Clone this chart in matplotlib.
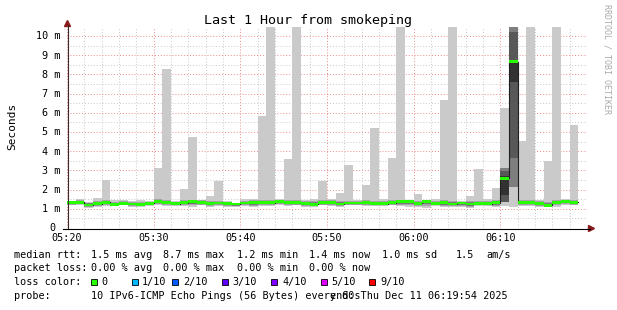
import numpy as np
import pandas as pd
import matplotlib
matplotlib.use("Agg")
import matplotlib.pyplot as plt
import matplotlib.dates as mdates
from matplotlib.transforms import offset_copy
from matplotlib.patches import Polygon, Rectangle
from matplotlib.lines import Line2D
from matplotlib.ticker import MultipleLocator

plt.rcParams['font.family'] = ['DejaVu Sans Mono', 'DejaVu Sans']

# ---------------- data (milliseconds), one column per minute ----------------
title = "Last 1 Hour from smokeping"
start_time = "2025-12-11 05:20"
window_minutes = 60

# the 10 sorted ping times of every minute (ping1 = fastest ... ping10 = slowest)
ping1 = [1.18, 1.18, 1.05, 1.11, 1.15, 1.15, 1.18, 1.11, 1.08, 1.15,
         1.22, 1.15, 1.15, 1.15, 1.11, 1.18, 1.11, 1.15, 1.11, 1.08,
         1.15, 1.11, 1.15, 1.15, 1.18, 1.15, 1.18, 1.11, 1.11, 1.18,
         1.15, 1.11, 1.18, 1.18, 1.15, 1.15, 1.15, 1.18, 1.15, 1.11,
         1.08, 1.04, 1.15, 1.11, 1.11, 1.08, 1.04, 1.15, 1.15, 1.11,
         1.15, 1.11, 1.15, 1.15, 1.11, 1.11, 1.11, 1.18, 1.18]
ping2 = [1.22, 1.23, 1.10, 1.16, 1.20, 1.18, 1.21, 1.15, 1.13, 1.19,
         1.26, 1.20, 1.18, 1.20, 1.18, 1.22, 1.16, 1.19, 1.16, 1.13,
         1.19, 1.17, 1.20, 1.20, 1.23, 1.20, 1.22, 1.16, 1.15, 1.22,
         1.20, 1.15, 1.21, 1.21, 1.20, 1.18, 1.18, 1.22, 1.21, 1.18,
         1.14, 1.14, 1.19, 1.17, 1.15, 1.14, 1.10, 1.19, 1.18, 1.17,
         1.37, 2.15, 1.20, 1.20, 1.16, 1.13, 1.18, 1.24, 1.22]
ping3 = [1.26, 1.27, 1.14, 1.20, 1.25, 1.20, 1.24, 1.19, 1.17, 1.23,
         1.30, 1.25, 1.21, 1.24, 1.24, 1.26, 1.21, 1.23, 1.20, 1.17,
         1.23, 1.22, 1.25, 1.24, 1.28, 1.24, 1.25, 1.20, 1.18, 1.25,
         1.24, 1.19, 1.24, 1.24, 1.24, 1.21, 1.21, 1.25, 1.27, 1.25,
         1.20, 1.24, 1.23, 1.22, 1.19, 1.20, 1.16, 1.23, 1.21, 1.22,
         1.37, 2.15, 1.24, 1.25, 1.20, 1.15, 1.24, 1.30, 1.26]
ping4 = [1.29, 1.30, 1.17, 1.23, 1.29, 1.21, 1.26, 1.22, 1.20, 1.26,
         1.33, 1.29, 1.24, 1.27, 1.30, 1.30, 1.25, 1.26, 1.23, 1.21,
         1.26, 1.27, 1.29, 1.28, 1.32, 1.28, 1.28, 1.23, 1.20, 1.28,
         1.28, 1.22, 1.27, 1.27, 1.28, 1.24, 1.24, 1.28, 1.31, 1.31,
         1.24, 1.31, 1.26, 1.27, 1.22, 1.25, 1.21, 1.26, 1.24, 1.27,
         1.37, 3.63, 1.28, 1.29, 1.23, 1.16, 1.29, 1.35, 1.30]
ping5 = [1.32, 1.33, 1.19, 1.26, 1.33, 1.22, 1.28, 1.24, 1.22, 1.28,
         1.36, 1.33, 1.26, 1.31, 1.35, 1.33, 1.28, 1.29, 1.26, 1.24,
         1.29, 1.31, 1.33, 1.31, 1.35, 1.31, 1.31, 1.26, 1.22, 1.31,
         1.31, 1.24, 1.29, 1.29, 1.31, 1.26, 1.26, 1.31, 1.35, 1.35,
         1.28, 1.35, 1.28, 1.31, 1.24, 1.29, 1.24, 1.28, 1.26, 1.31,
         1.72, 7.62, 1.31, 1.33, 1.26, 1.17, 1.33, 1.38, 1.33]
ping6 = [1.35, 1.35, 1.21, 1.28, 1.35, 1.24, 1.30, 1.26, 1.24, 1.30,
         1.38, 1.35, 1.28, 1.33, 1.37, 1.35, 1.30, 1.31, 1.28, 1.26,
         1.31, 1.33, 1.35, 1.33, 1.37, 1.33, 1.33, 1.28, 1.24, 1.33,
         1.33, 1.26, 1.31, 1.31, 1.33, 1.28, 1.28, 1.33, 1.37, 1.37,
         1.30, 1.37, 1.30, 1.33, 1.26, 1.31, 1.26, 1.30, 1.28, 1.33,
         2.70, 8.70, 1.33, 1.35, 1.28, 1.19, 1.35, 1.40, 1.35]
ping7 = [1.37, 1.38, 1.25, 1.31, 1.38, 1.28, 1.33, 1.29, 1.27, 1.32,
         1.41, 1.38, 1.31, 1.36, 1.40, 1.38, 1.33, 1.34, 1.31, 1.28,
         1.34, 1.36, 1.38, 1.36, 1.40, 1.36, 1.36, 1.31, 1.28, 1.36,
         1.36, 1.29, 1.34, 1.34, 1.36, 1.31, 1.31, 1.36, 1.40, 1.39,
         1.33, 1.39, 1.33, 1.36, 1.29, 1.33, 1.29, 1.33, 1.31, 1.36,
         2.97, 10.19, 1.36, 1.38, 1.31, 1.23, 1.38, 1.42, 1.38]
ping8 = [1.39, 1.41, 1.28, 1.35, 1.42, 1.32, 1.36, 1.32, 1.31, 1.35,
         1.44, 1.42, 1.34, 1.40, 1.43, 1.41, 1.37, 1.38, 1.34, 1.29,
         1.38, 1.40, 1.42, 1.40, 1.43, 1.40, 1.39, 1.35, 1.33, 1.40,
         1.40, 1.33, 1.38, 1.37, 1.40, 1.35, 1.35, 1.40, 1.43, 1.41,
         1.37, 1.41, 1.37, 1.40, 1.33, 1.35, 1.33, 1.37, 1.35, 1.40,
         3.10, 11.5, 1.40, 1.42, 1.35, 1.28, 1.42, 1.44, 1.42]
ping9 = [1.40, 1.45, 1.31, 1.40, 1.47, 1.38, 1.40, 1.36, 1.37, 1.37,
         1.49, 1.47, 1.37, 1.45, 1.47, 1.44, 1.42, 1.43, 1.37, 1.31,
         1.43, 1.45, 1.48, 1.46, 1.46, 1.46, 1.44, 1.40, 1.40, 1.45,
         1.45, 1.39, 1.43, 1.42, 1.46, 1.41, 1.42, 1.46, 1.48, 1.44,
         1.43, 1.44, 1.43, 1.46, 1.39, 1.37, 1.39, 1.43, 1.42, 1.46,
         3.10, 11.5, 1.46, 1.47, 1.40, 1.35, 1.47, 1.47, 1.47]
ping10 = [1.41, 1.49, 1.35, 1.56, 2.50, 1.45, 1.47, 1.40, 1.45, 1.40,
          3.14, 8.28, 1.40, 2.03, 4.76, 1.47, 1.68, 2.45, 1.40, 1.32,
          1.49, 1.50, 5.83, 11.5, 1.50, 3.59, 11.5, 1.47, 1.50, 2.45,
          1.50, 1.82, 3.28, 1.47, 2.24, 5.21, 1.50, 3.65, 11.5, 1.47,
          1.77, 1.47, 1.53, 6.67, 11.5, 1.40, 1.66, 3.07, 1.50, 2.08,
          6.25, 11.5, 4.55, 11.5, 1.47, 3.49, 11.5, 1.50, 5.36]
median_rtt = [1.34, 1.34, 1.20, 1.27, 1.34, 1.23, 1.29, 1.25, 1.23, 1.29,
              1.37, 1.34, 1.27, 1.32, 1.36, 1.34, 1.29, 1.30, 1.27, 1.25,
              1.30, 1.32, 1.34, 1.32, 1.36, 1.32, 1.32, 1.27, 1.23, 1.32,
              1.32, 1.25, 1.30, 1.30, 1.32, 1.27, 1.27, 1.32, 1.36, 1.36,
              1.29, 1.36, 1.29, 1.32, 1.25, 1.30, 1.25, 1.29, 1.27, 1.32,
              2.59, 8.66, 1.32, 1.34, 1.27, 1.18, 1.34, 1.39, 1.34]

y_max = 10.45
y_tick_values = [0, 1, 2, 3, 4, 5, 6, 7, 8, 9, 10]

stats_rtt = ["1.5 ms avg", "8.7 ms max", "1.2 ms min", "1.4 ms now", "1.0 ms sd", "1.5", "am/s"]
stats_loss = ["0.00 % avg", "0.00 % max", "0.00 % min", "0.00 % now"]
loss_labels = ["0", "1/10", "2/10", "3/10", "4/10", "5/10", "9/10"]
loss_colors = ["#26ff00", "#00b8ff", "#0059ff", "#5e00ff", "#7e00ff", "#dd00ff", "#ff0000"]
probe_text = "10 IPv6-ICMP Echo Pings (56 Bytes) every 60s"
end_text = "end: Thu Dec 11 06:19:54 2025"
credit = "RRDTOOL / TOBI OETIKER"

# ---------------- layout ----------------
W, H = 617, 310
def fx(x): return x / W
def fy(y): return 1 - y / H

L, R, T, B = 67, 587, 27.4, 228
fig = plt.figure(figsize=(W / 100, H / 100), dpi=100)
fig.patch.set_facecolor("white")
ax = fig.add_axes([fx(L), fy(B), (R - L) / W, (B - T) / H])
ax.set_facecolor("white")
for s in ax.spines.values():
    s.set_visible(False)

pings = [np.array(p) for p in (ping1, ping2, ping3, ping4, ping5,
                               ping6, ping7, ping8, ping9, ping10)]
median = np.array(median_rtt)
n = len(median)
edges_dt = pd.date_range(start_time, periods=n + 1, freq="min")
edges = mdates.date2num(edges_dt.to_pydatetime())
t0 = mdates.date2num(pd.Timestamp(start_time).to_pydatetime())
t1 = mdates.date2num((pd.Timestamp(start_time) + pd.Timedelta(minutes=window_minutes)).to_pydatetime())
ax.set_xlim(t0, t1)
ax.set_ylim(0, y_max)

# grid
ax.xaxis.set_major_locator(mdates.MinuteLocator(byminute=range(0, 60, 10)))
ax.xaxis.set_minor_locator(mdates.MinuteLocator(byminute=range(0, 60, 2)))
ax.yaxis.set_major_locator(MultipleLocator(1))
ax.yaxis.set_minor_locator(MultipleLocator(0.5))
ax.grid(which="minor", color="#c8c8c8", linestyle=(0, (1, 2)), linewidth=0.7, zorder=0)
ax.grid(which="major", color="#ee8a8a", linestyle=(0, (1, 2)), linewidth=0.7, zorder=0)
ax.set_axisbelow(True)
ax.tick_params(which="both", length=0, labelbottom=False, labelleft=False)

# smoke (smokeping style grey bands)
smoke_colors = ["#cacaca", "#a4a4a4", "#7e7e7e", "#585858", "#323232"]
for k in range(5):
    lo = np.append(pings[k], pings[k][-1])
    hi = np.append(pings[9 - k], pings[9 - k][-1])
    ax.fill_between(edges, lo, hi, step="post", color=smoke_colors[k],
                    linewidth=0, zorder=2)

# median: thin dark line + green loss band
med_ext = np.append(median, median[-1])
ax.step(edges, med_ext, where="post", color="#202020", linewidth=0.8, zorder=3)
sw = 0.075
ax.fill_between(edges, med_ext - sw, med_ext + sw, step="post",
                color=loss_colors[0], linewidth=0, zorder=4)

# tick labels
ytrans = ax.get_yaxis_transform()
for v in y_tick_values:
    lab = "0" if v == 0 else f"{v} m"
    dx = -12 if v == 0 else -7
    ax.text(0, v, lab, ha="right", va="baseline", fontsize=7.3,
            transform=offset_copy(ytrans, fig=fig, x=dx, y=-3.3, units="dots"),
            clip_on=False)
xtrans = ax.get_xaxis_transform()
for t in ax.get_xticks():
    if t0 - 1e-9 <= t < t1 - 1e-6:
        lab = mdates.num2date(t).strftime("%H:%M")
        ax.text(t, 0, lab, ha="center", va="baseline", fontsize=7.3,
                transform=offset_copy(xtrans, fig=fig, y=-12.7, units="dots"),
                clip_on=False)

# axes lines and arrows
fig.add_artist(Line2D([fx(67.5), fx(67.5)], [fy(228), fy(25)], color="#3a2a2a", linewidth=0.8))
fig.add_artist(Line2D([fx(63), fx(590)], [fy(228.5), fy(228.5)], color="black", linewidth=0.8))
fig.add_artist(Polygon([(fx(67.5), fy(20.5)), (fx(64.5), fy(26.5)), (fx(70.5), fy(26.5))],
                       closed=True, color="#8a1a1a", transform=fig.transFigure))
fig.add_artist(Polygon([(fx(594.5), fy(228.5)), (fx(588.5), fy(225.5)), (fx(588.5), fy(231.5))],
                       closed=True, color="#8a1a1a", transform=fig.transFigure))

# title, axis label, credit
fig.text(0.5, fy(24), title, ha="center", va="baseline", fontsize=9.6)
fig.text(fx(12), fy(126.5), "Seconds", rotation=90, ha="center", va="center", fontsize=8)
fig.text(fx(607.5), fy(4), credit, rotation=270, ha="center", va="top",
         fontsize=6, color="#aaaaaa")

# legend
fs = 7.3
row_y = [258, 271.3, 285.3, 299]
fig.text(fx(14), fy(row_y[0]), "median rtt:", va="baseline", fontsize=fs)
for x, s in zip([90.7, 163.3, 236.7, 309.3, 382.3, 455.3, 486.7], stats_rtt):
    fig.text(fx(x), fy(row_y[0]), s, va="baseline", fontsize=fs)
fig.text(fx(14), fy(row_y[1]), "packet loss:", va="baseline", fontsize=fs)
for x, s in zip([90.7, 163.3, 236.7, 309.3], stats_loss):
    fig.text(fx(x), fy(row_y[1]), s, va="baseline", fontsize=fs)
fig.text(fx(14), fy(row_y[2]), "loss color:", va="baseline", fontsize=fs)
box_x = [91.3, 131.7, 172.3, 221.7, 271.3, 321.0, 369.0]
lab_x = [101.7, 141.7, 182.7, 232.3, 282.3, 331.7, 380.0]
for bx, lx, c, s in zip(box_x, lab_x, loss_colors, loss_labels):
    fig.add_artist(Rectangle((fx(bx), fy(285.3)), 6 / W, 6.3 / H, facecolor=c,
                             edgecolor="black", linewidth=0.6, transform=fig.transFigure))
    fig.text(fx(lx), fy(row_y[2]), s, va="baseline", fontsize=fs)
fig.text(fx(14), fy(row_y[3]), "probe:", va="baseline", fontsize=fs)
fig.text(fx(90.7), fy(row_y[3]), probe_text, va="baseline", fontsize=fs)
fig.text(fx(508), fy(row_y[3]), end_text, ha="right", va="baseline", fontsize=fs)

fig.savefig("out.png", dpi=100, facecolor="white")
